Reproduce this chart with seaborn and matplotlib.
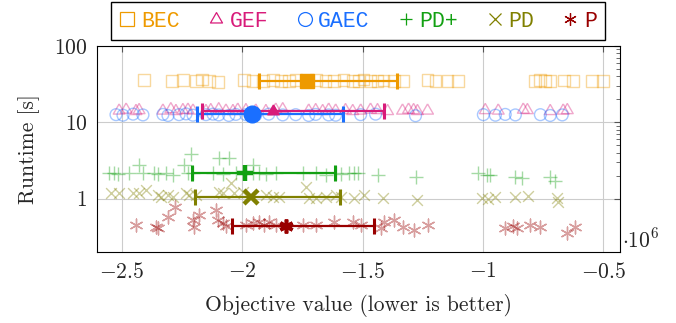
import numpy as np
import pandas as pd
import matplotlib
matplotlib.use("Agg")
import matplotlib.pyplot as plt
import seaborn as sns
from matplotlib.lines import Line2D
from matplotlib.ticker import FixedLocator, FuncFormatter, NullFormatter

# ---------------- data (objective in units of 1e6, runtime in s) ----------------
methods = ["BEC", "GEF", "GAEC", "PD+", "PD", "P"]
colors = ["#EE9A00", "#D81B7A", "#1A6FFF", "#12A012", "#808000", "#990000"]

bec_obj = [-2.409, -2.293, -2.247, -2.193, -2.168, -2.139, -2.102, -1.994, -1.956, -1.915,
           -1.873, -1.840, -1.807, -1.778, -1.695, -1.654, -1.620, -1.579, -1.541, -1.517,
           -1.496, -1.467, -1.438, -1.413, -1.371, -1.330, -1.230, -1.197, -1.147, -1.102,
           -0.782, -0.761, -0.741, -0.720, -0.662, -0.624, -0.546, -0.500]
bec_time = [35.5, 35.0, 36.0, 34.5, 36.5, 35.0, 34.0, 35.5, 34.8, 35.2,
            36.2, 34.6, 35.0, 35.8, 36.0, 34.4, 35.0, 35.6, 34.8, 35.2,
            36.4, 35.0, 34.6, 35.4, 35.0, 34.8, 35.6, 35.2, 35.0, 34.6,
            35.2, 35.8, 34.8, 35.0, 35.4, 34.6, 35.2, 34.8]

gef_obj = [-2.512, -2.483, -2.442, -2.429, -2.330, -2.297, -2.276, -2.247, -2.226, -2.205,
           -2.151, -2.131, -2.098, -2.068, -2.039, -2.019, -1.985, -1.944, -1.902, -1.861,
           -1.832, -1.724, -1.695, -1.666, -1.641, -1.612, -1.571, -1.541, -1.508, -1.467,
           -1.438, -1.396, -1.334, -1.309, -1.288, -1.272, -1.230, -0.990, -0.936, -0.832,
           -0.815, -0.720, -0.666, -0.649]
gef_time = [14.2, 14.6, 14.0, 14.4, 14.2, 14.8, 14.0, 14.4, 14.6, 14.2,
            14.0, 14.4, 14.8, 14.2, 14.0, 14.6, 14.4, 14.2, 14.0, 14.6,
            14.8, 14.2, 14.4, 14.0, 14.6, 14.2, 14.4, 14.0, 14.2, 14.6,
            14.4, 14.0, 14.2, 14.6, 14.4, 14.0, 14.2, 14.4, 14.2, 14.6,
            14.4, 14.0, 14.2, 14.4]

gaec_obj = [-2.525, -2.496, -2.454, -2.413, -2.330, -2.309, -2.263, -2.234, -2.205, -2.151,
            -2.122, -2.098, -2.056, -2.027, -1.985, -1.944, -1.890, -1.832, -1.778, -1.724,
            -1.695, -1.641, -1.612, -1.508, -1.446, -1.280, -0.998, -0.948, -0.907, -0.865,
            -0.761, -0.720, -0.670]
gaec_time = [12.6, 12.4, 12.8, 12.5, 12.7, 12.3, 12.6, 12.9, 12.4, 12.6,
             12.8, 12.5, 12.3, 12.7, 12.6, 12.4, 12.8, 12.5, 12.6, 12.3,
             12.7, 12.5, 12.4, 12.6, 12.8, 12.2, 12.6, 12.4, 12.7, 12.5,
             12.6, 12.3, 12.5]

pdp_obj = [-2.554, -2.533, -2.517, -2.471, -2.429, -2.413, -2.367, -2.351, -2.317, -2.288,
           -2.243, -2.226, -2.214, -2.205, -2.122, -2.098, -2.081, -2.056, -2.027, -1.956,
           -1.956, -1.932, -1.902, -1.861, -1.749, -1.695, -1.654, -1.612, -1.591, -1.558,
           -1.537, -1.521, -1.438, -1.280, -1.019, -0.981, -0.969, -0.865, -0.836, -0.720,
           -0.699]
pdp_time = [2.14, 2.20, 2.10, 2.14, 2.72, 2.14, 2.20, 2.10, 2.14, 2.07,
            2.72, 2.14, 3.90, 2.14, 2.14, 3.45, 2.10, 3.45, 2.14, 2.72,
            2.14, 2.20, 2.10, 2.14, 2.14, 2.20, 2.07, 2.14, 2.10, 2.14,
            2.20, 2.20, 2.07, 1.90, 2.20, 2.07, 2.07, 1.90, 1.84, 1.90,
            1.68]

pd_obj = [-2.546, -2.512, -2.454, -2.429, -2.400, -2.351, -2.338, -2.309, -2.288, -2.234,
          -2.222, -2.193, -2.098, -2.081, -2.048, -2.035, -1.998, -1.902, -1.873, -1.849,
          -1.737, -1.724, -1.695, -1.654, -1.612, -1.591, -1.537, -1.496, -1.417, -1.272,
          -1.002, -0.977, -0.948, -0.865, -0.811, -0.691, -0.687]
pd_time = [1.17, 1.17, 1.17, 1.17, 1.28, 1.10, 1.04, 1.10, 1.04, 1.17,
           1.10, 1.10, 1.21, 1.17, 1.58, 1.17, 1.21, 1.10, 1.04, 1.04,
           1.40, 1.01, 1.01, 1.04, 1.10, 1.04, 1.01, 1.10, 1.01, 0.95,
           1.01, 0.98, 1.04, 1.04, 1.07, 1.01, 0.90]

p_obj = [-2.442, -2.359, -2.351, -2.309, -2.280, -2.205, -2.201, -2.180, -2.110, -2.102,
         -2.081, -2.068, -1.985, -1.956, -1.932, -1.911, -1.890, -1.861, -1.749, -1.695,
         -1.620, -1.541, -1.508, -1.425, -1.413, -1.371, -1.334, -1.288, -1.230, -0.907,
         -0.873, -0.857, -0.803, -0.761, -0.649, -0.616]
p_time = [0.449, 0.422, 0.410, 0.569, 0.768, 0.520, 0.422, 0.604, 0.702, 0.520,
          0.476, 0.435, 0.449, 0.476, 0.490, 0.449, 0.490, 0.449, 0.449, 0.449,
          0.490, 0.490, 0.449, 0.410, 0.490, 0.520, 0.422, 0.386, 0.449, 0.410,
          0.435, 0.410, 0.449, 0.422, 0.353, 0.422]

mean_obj = [-1.732, -1.873, -1.961, -1.990, -1.965, -1.820]
mean_time = [35.0, 14.0, 12.8, 2.14, 1.04, 0.435]
err_lo = [-1.932, -2.168, -2.189, -2.210, -2.197, -2.044]
err_hi = [-1.355, -1.413, -1.583, -1.616, -1.595, -1.454]

xticks = [-2.5, -2.0, -1.5, -1.0, -0.5]
yticks = [1, 10, 100]

# ---------------- styling ----------------
sns.set_style("white")
plt.rcParams.update({
    "font.family": ["cmr10", "DejaVu Serif"],
    "mathtext.fontset": "cm",
    "axes.formatter.use_mathtext": True,
    "axes.unicode_minus": True,
})

tri = [(0.0, 1.0), (-0.866, -0.5), (0.866, -0.5), (0.0, 1.0)]
asterisk = (6, 2, 0)
markers = ["s", tri, "o", "+", "x", asterisk]
filled = [True, True, True, False, False, False]
scatter_sizes = [72, 95, 72, 90, 60, 85]
mean_ms = [10.5, 9.5, 12, 11, 9.5, 10]
mean_mew = [1, 1, 1, 3.2, 3.2, 2.6]

series = [(bec_obj, bec_time), (gef_obj, gef_time), (gaec_obj, gaec_time),
          (pdp_obj, pdp_time), (pd_obj, pd_time), (p_obj, p_time)]
frames = []
for name, (xo, yt) in zip(methods, series):
    frames.append(pd.DataFrame({"objective": xo, "runtime": yt, "method": name}))
df = pd.concat(frames, ignore_index=True)

fig = plt.figure(figsize=(6.76, 3.23), dpi=100)
ax = fig.add_axes([97 / 676, 1 - 252 / 323, (620 - 97) / 676, (252 - 46) / 323])

for i, name in enumerate(methods):
    sub = df[df["method"] == name]
    if filled[i]:
        sns.scatterplot(data=sub, x="objective", y="runtime", ax=ax, marker=markers[i],
                        s=scatter_sizes[i], color=colors[i], facecolor="none",
                        edgecolor=colors[i], linewidth=1.0, alpha=0.38, zorder=2,
                        legend=False)
    else:
        sns.scatterplot(data=sub, x="objective", y="runtime", ax=ax, marker=markers[i],
                        s=scatter_sizes[i], color=colors[i], edgecolor=None,
                        linewidth=1.0, alpha=0.38, zorder=2, legend=False)

# error bars (GAEC before GEF so GEF bar is on top)
order = [0, 2, 1, 3, 4, 5]
for i in order:
    ax.errorbar([mean_obj[i]], [mean_time[i]],
                xerr=[[mean_obj[i] - err_lo[i]], [err_hi[i] - mean_obj[i]]],
                fmt="none", ecolor=colors[i], elinewidth=1.6, capsize=5.5,
                capthick=2.2, zorder=4)
for i in order:
    ax.plot([mean_obj[i]], [mean_time[i]], ls="none", marker=markers[i],
            ms=mean_ms[i], color=colors[i], mec=colors[i], mew=mean_mew[i], zorder=5)

ax.set_yscale("log")
ax.set_xlim(-2.604, -0.43)
ax.set_ylim(0.2, 100)
ax.xaxis.set_major_locator(FixedLocator(xticks))
ax.yaxis.set_major_locator(FixedLocator(yticks))
ax.yaxis.set_minor_locator(FixedLocator([2, 3, 4, 5, 6, 7, 8, 9, 20, 30, 40, 50, 60, 70, 80, 90]))
ax.yaxis.set_minor_formatter(NullFormatter())
ax.xaxis.set_major_formatter(FuncFormatter(lambda v, p: f"$-{abs(v):g}$" if v < 0 else f"${v:g}$"))
ax.yaxis.set_major_formatter(FuncFormatter(lambda v, p: f"${v:g}$"))

ax.grid(True, which="major", color="#cccccc", lw=0.8)
ax.set_axisbelow(True)
for sp in ax.spines.values():
    sp.set_color("black")
    sp.set_linewidth(0.8)
ax.tick_params(which="both", direction="in", top=True, right=True, color="#555555",
               labelsize=15.5, pad=7)
ax.tick_params(which="major", length=4, width=0.8)
ax.tick_params(which="minor", length=3, width=0.6)

ax.set_xlabel("Objective value (lower is better)", fontsize=15.5, labelpad=9)
ax.set_ylabel("Runtime [s]", fontsize=15.5, labelpad=10)

fig.text(622 / 676, 1 - 248 / 323, r"$\cdot 10^{6}$", fontsize=15.5, ha="left", va="baseline")

handles = []
for i, name in enumerate(methods):
    if filled[i]:
        h = Line2D([], [], ls="none", marker=markers[i], ms=10,
                   mfc="none", mec=colors[i], mew=0.9)
    else:
        h = Line2D([], [], ls="none", marker=markers[i], ms=9, color=colors[i], mew=0.9)
    handles.append(h)
leg = fig.legend(handles, methods, loc="upper center", bbox_to_anchor=(358 / 676, 1 - 2 / 323),
                 ncol=6, prop={"family": "Liberation Mono", "size": 15.5}, frameon=True,
                 fancybox=False, edgecolor="black", framealpha=1, handlelength=0.75,
                 handletextpad=0.25, columnspacing=1.32, borderpad=0.4, borderaxespad=0)
leg.get_frame().set_linewidth(1.0)
for t, c in zip(leg.get_texts(), colors):
    t.set_color(c)

fig.savefig("out.png", dpi=100)
